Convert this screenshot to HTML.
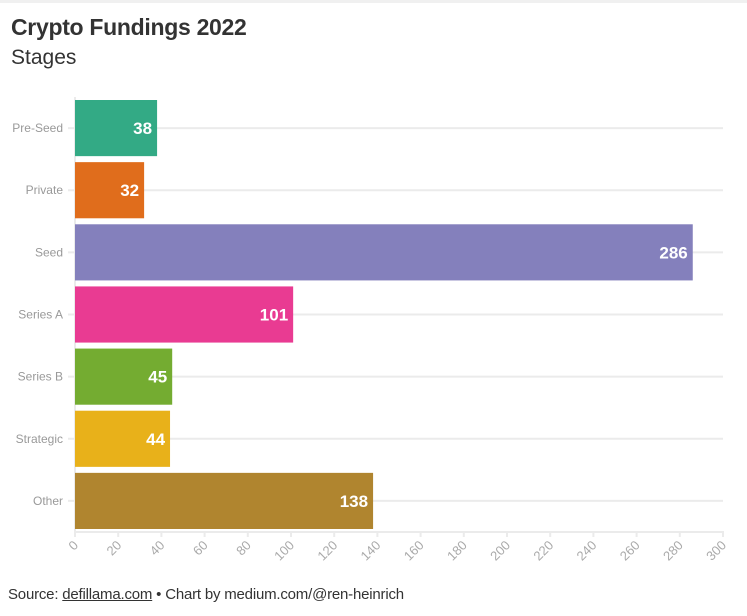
<!DOCTYPE html>
<html><head><meta charset="utf-8"><style>
body{margin:0;background:#fff;font-family:"Liberation Sans",sans-serif;}
.topstrip{position:absolute;left:0;top:0;width:747px;height:3px;background:#f0f0f0}
h1{position:absolute;left:11px;top:14px;margin:0;font-size:23px;font-weight:bold;color:#333;letter-spacing:-0.3px}
h2{position:absolute;left:11px;top:46px;margin:0;font-size:21px;font-weight:normal;color:#333}
.foot{position:absolute;left:8px;top:586px;font-size:15px;color:#333;letter-spacing:-0.2px}
.foot u{color:#333}
</style></head><body>
<div class="topstrip"></div>
<h1>Crypto Fundings 2022</h1>
<h2>Stages</h2>
<svg id="c" width="747" height="616" style="position:absolute;left:0;top:0"></svg>
<div class="foot">Source: <u>defillama.com</u> • Chart by medium.com/@ren-heinrich</div>
<script>
const categories=["Pre-Seed","Private","Seed","Series A","Series B","Strategic","Other"];
const values=[38,32,286,101,45,44,138];
const colors=["#33aa85","#e06d1c","#8480bc","#e93b92","#74ac31","#e8b11a","#b0852f"];
const ticks=[0,20,40,60,80,100,120,140,160,180,200,220,240,260,280,300];
const NS="http://www.w3.org/2000/svg";
const svg=document.getElementById('c');
const x0=75,x1=723,yTop=97,yBot=532;
const x=v=>x0+v/300*(x1-x0);
const step=(yBot-yTop)/categories.length;
const y=i=>yTop+i*step;
function mk(t,a){const e=document.createElementNS(NS,t);for(const k in a)e.setAttribute(k,a[k]);svg.appendChild(e);return e;}
categories.forEach((c,i)=>{
  const cy=y(i)+step/2;
  const g=mk('line',{x1:x0-7,x2:x1,y1:cy,y2:cy,stroke:'#ebebeb','stroke-width':2});
  
  
  const l=mk('text',{x:x0-12,y:cy+4,'text-anchor':'end','font-size':12,fill:'#999','font-family':'Liberation Sans, sans-serif'});
  l.textContent=c;
  
  
});
mk('line',{x1:x0,x2:x0,y1:yTop,y2:yBot,stroke:'#ebebeb','stroke-width':2});
const ax=mk('line',{x1:x0,x2:x1+1,y1:yBot,y2:yBot,stroke:'#ebebeb','stroke-width':2});


categories.forEach((c,i)=>{
  const by=y(i)+3,h=step-6;
  const r=mk('rect',{x:x0,y:by,width:x(values[i])-x0,height:h,fill:colors[i]});
  
  
  const t=mk('text',{x:x(values[i])-5,y:by+h/2+6,'text-anchor':'end','font-size':17,'font-weight':'bold',fill:'#fff',stroke:colors[i],'stroke-width':3,'paint-order':'stroke','font-family':'Liberation Sans, sans-serif'});
  t.textContent=values[i];
  
  
});
ticks.forEach(v=>{
  const tx=x(v);
  mk('line',{x1:tx,x2:tx,y1:yBot,y2:yBot+5,stroke:'#ebebeb','stroke-width':2});
  const t=mk('text',{x:tx+4,y:yBot+14,'text-anchor':'end','font-size':13,fill:'#aaa',transform:`rotate(-45 ${tx+4} ${yBot+14})`,'font-family':'Liberation Sans, sans-serif'});
  t.textContent=v;
  
  
});
</script>
</body></html>
